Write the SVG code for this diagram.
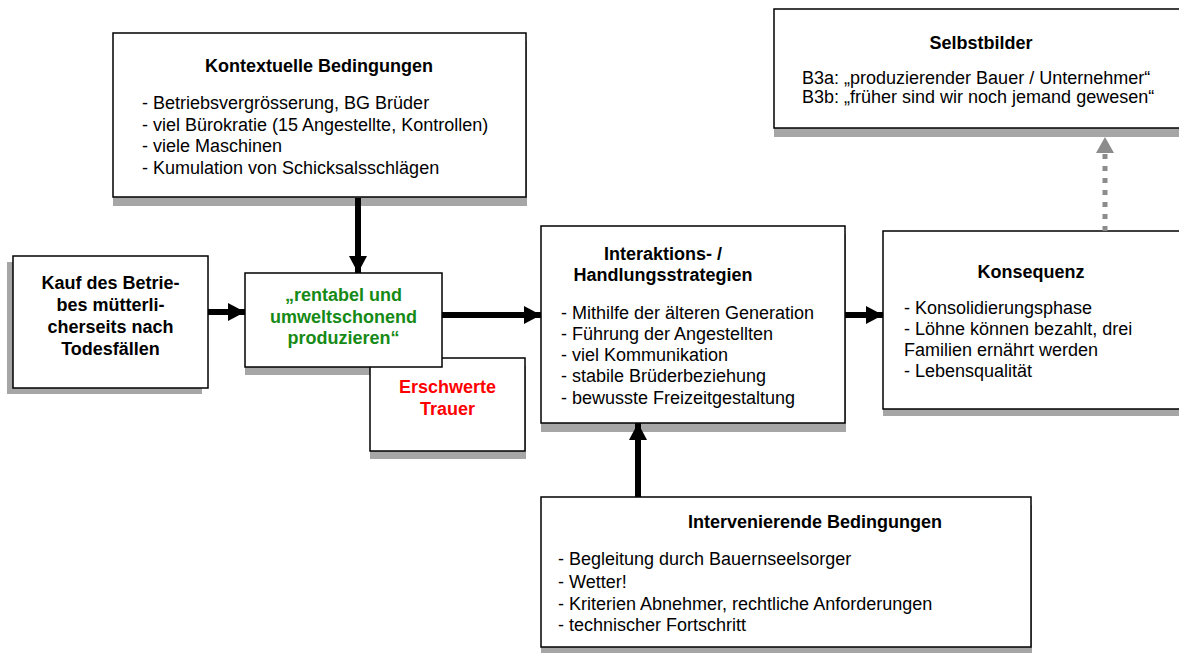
<svg xmlns="http://www.w3.org/2000/svg" width="1179" height="653" viewBox="0 0 1179 653">
  <style>
    .box { fill: #ffffff; stroke: #000000; stroke-width: 1.5; }
    .shadow { fill: #a6a6a6; stroke: none; }
    text { font-family: "Liberation Sans", Arial, sans-serif; font-size: 18px; fill: #000000; }
    .title { font-weight: bold; text-anchor: middle; }
    .green { fill: #168a16; font-weight: bold; text-anchor: middle; }
    .red { fill: #ff0000; font-weight: bold; text-anchor: middle; }
    .flow { stroke: #000000; stroke-width: 6; fill: none; }
    .dotted { stroke: #8c8c8c; stroke-width: 5; stroke-dasharray: 5 7; fill: none; }
  </style>
  <defs>
    <marker id="head" markerUnits="userSpaceOnUse" markerWidth="18" markerHeight="18" refX="17" refY="9" orient="auto">
      <path d="M0,0 L17,9 L0,18 Z" fill="#000000"/>
    </marker>
    <marker id="headGray" markerUnits="userSpaceOnUse" markerWidth="18" markerHeight="18" refX="16" refY="9" orient="auto">
      <path d="M0,0 L16,9 L0,18 Z" fill="#8c8c8c"/>
    </marker>
  </defs>

  <rect width="1179" height="653" fill="#ffffff"/>

  <!-- Selbstbilder -->
  <g id="selbstbilder">
    <rect class="shadow" x="774" y="17" width="420" height="120"/>
    <rect class="box" x="774" y="9" width="420" height="119"/>
    <text class="title" x="981" y="49">Selbstbilder</text>
    <text x="802" y="84">B3a: „produzierender Bauer / Unternehmer“</text>
    <text x="802" y="103">B3b: „früher sind wir noch jemand gewesen“</text>
  </g>

  <!-- Kontextuelle Bedingungen -->
  <g id="kontext">
    <rect class="shadow" x="113" y="41" width="414" height="165"/>
    <rect class="box" x="113" y="33" width="413" height="164"/>
    <text class="title" x="319" y="72">Kontextuelle Bedingungen</text>
    <text x="142" y="109">- Betriebsvergrösserung, BG Brüder</text>
    <text x="142" y="131">- viel Bürokratie (15 Angestellte, Kontrollen)</text>
    <text x="142" y="152">- viele Maschinen</text>
    <text x="142" y="174">- Kumulation von Schicksalsschlägen</text>
  </g>

  <!-- Kauf des Betriebes -->
  <g id="kauf">
    <rect class="shadow" x="7" y="262" width="195" height="132"/>
    <rect class="box" x="13" y="256" width="195" height="132"/>
    <text class="title" x="110.5" y="289">Kauf des Betrie-</text>
    <text class="title" x="110.5" y="311">bes mütterli-</text>
    <text class="title" x="110.5" y="333">cherseits nach</text>
    <text class="title" x="110.5" y="355">Todesfällen</text>
  </g>

  <!-- shadow of the phenomenon box, partly covered by the grief box -->
  <rect class="shadow" x="245" y="281" width="197" height="94"/>

  <!-- Erschwerte Trauer -->
  <g id="trauer">
    <rect class="shadow" x="370" y="366" width="156" height="93"/>
    <rect class="box" x="370" y="358" width="155" height="93"/>
    <text class="red" x="447.5" y="393">Erschwerte</text>
    <text class="red" x="447.5" y="415">Trauer</text>
  </g>

  <!-- Phenomenon -->
  <g id="phaenomen">
    <rect class="box" x="245" y="273" width="197" height="94"/>
    <text class="green" x="343.5" y="301">„rentabel und</text>
    <text class="green" x="343.5" y="323">umweltschonend</text>
    <text class="green" x="343.5" y="344">produzieren“</text>
  </g>

  <!-- Interaktions- / Handlungsstrategien -->
  <g id="strategien">
    <rect class="shadow" x="541" y="234" width="305" height="198"/>
    <rect class="box" x="541" y="226" width="304" height="197"/>
    <text class="title" x="663" y="260">Interaktions- /</text>
    <text class="title" x="663" y="281">Handlungsstrategien</text>
    <text x="561" y="319">- Mithilfe der älteren Generation</text>
    <text x="561" y="340">- Führung der Angestellten</text>
    <text x="561" y="361">- viel Kommunikation</text>
    <text x="561" y="382">- stabile Brüderbeziehung</text>
    <text x="561" y="404">- bewusste Freizeitgestaltung</text>
  </g>

  <!-- Konsequenz -->
  <g id="konsequenz">
    <rect class="shadow" x="883" y="238" width="310" height="178"/>
    <rect class="box" x="883" y="231" width="310" height="178"/>
    <text class="title" x="1031" y="278">Konsequenz</text>
    <text x="904" y="314">- Konsolidierungsphase</text>
    <text x="904" y="335">- Löhne können bezahlt, drei</text>
    <text x="904" y="356">Familien ernährt werden</text>
    <text x="904" y="377">- Lebensqualität</text>
  </g>

  <!-- Intervenierende Bedingungen -->
  <g id="intervenierend">
    <rect class="shadow" x="541" y="505" width="491" height="150"/>
    <rect class="box" x="541" y="497" width="490" height="150"/>
    <text class="title" x="815" y="528">Intervenierende Bedingungen</text>
    <text x="558" y="565">- Begleitung durch Bauernseelsorger</text>
    <text x="558" y="588">- Wetter!</text>
    <text x="558" y="610">- Kriterien Abnehmer, rechtliche Anforderungen</text>
    <text x="558" y="631">- technischer Fortschritt</text>
  </g>

  <!-- Connectors -->
  <g id="connectors">
    <line class="flow" x1="358" y1="198" x2="358" y2="273" marker-end="url(#head)"/>
    <line class="flow" x1="208" y1="312" x2="245" y2="312" marker-end="url(#head)"/>
    <line class="flow" x1="442" y1="315" x2="541" y2="315" marker-end="url(#head)"/>
    <line class="flow" x1="845" y1="315" x2="883" y2="315" marker-end="url(#head)"/>
    <line class="flow" x1="638" y1="497" x2="638" y2="423" marker-end="url(#head)"/>
    <line class="dotted" x1="1105" y1="231" x2="1105" y2="137" marker-end="url(#headGray)"/>
  </g>
</svg>
